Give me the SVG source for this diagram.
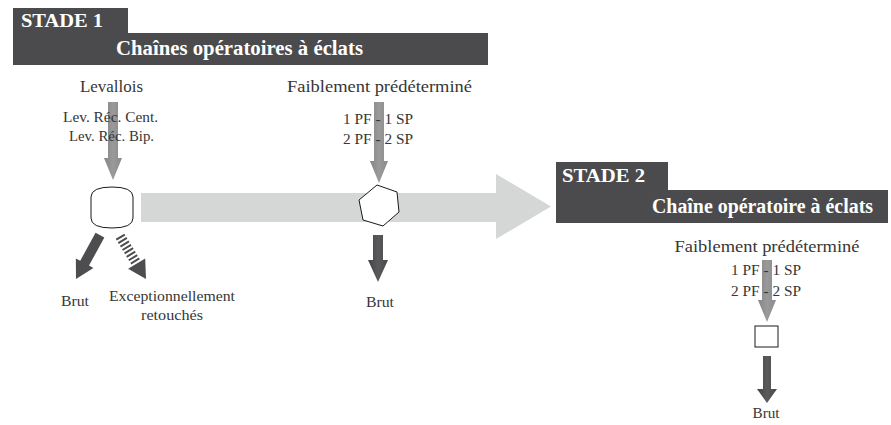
<svg xmlns="http://www.w3.org/2000/svg" width="891" height="425" viewBox="0 0 891 425">
  <defs>
    <style>
      .bar { fill: #4b4b4d; }
      .hdr { font-family: 'Liberation Serif', 'Times New Roman', serif; font-weight: bold; fill: #ffffff; }
      .lbl { font-family: 'Liberation Serif', 'Times New Roman', serif; fill: #363636; text-anchor: middle; }
      .node { fill: #ffffff; stroke: #1a1a1a; stroke-width: 1; }
      .big { fill: #d5d7d6; }
      .gray { fill: url(#gGray); }
      .dark { fill: url(#gDark); }
    </style>
    <linearGradient id="gGray" x1="0" y1="0" x2="1" y2="0">
      <stop offset="0" stop-color="#858585"/>
      <stop offset="0.5" stop-color="#9a9a9a"/>
      <stop offset="1" stop-color="#8a8a8a"/>
    </linearGradient>
    <linearGradient id="gDark" x1="0" y1="0" x2="1" y2="0">
      <stop offset="0" stop-color="#444446"/>
      <stop offset="0.5" stop-color="#5a5a5c"/>
      <stop offset="1" stop-color="#4a4a4c"/>
    </linearGradient>
  </defs>

  <!-- Big transition arrow -->
  <g id="transition-arrow">
    <polygon class="big" points="141,193 496,193 496,174 551,206.5 496,239 496,222 141,222"/>
  </g>

  <!-- Stage headers -->
  <g id="stade1-header">
    <rect class="bar" x="13" y="8" width="115" height="26"/>
    <rect class="bar" x="13" y="33" width="475" height="32"/>
    <text class="hdr" x="21" y="27" font-size="19" textLength="82" lengthAdjust="spacingAndGlyphs">STADE 1</text>
    <text class="hdr" x="116" y="55" font-size="20" textLength="247" lengthAdjust="spacingAndGlyphs">Chaînes opératoires à éclats</text>
  </g>
  <g id="stade2-header">
    <rect class="bar" x="556" y="162" width="112" height="29"/>
    <rect class="bar" x="556" y="190" width="332" height="33"/>
    <text class="hdr" x="562" y="182" font-size="19" textLength="83" lengthAdjust="spacingAndGlyphs">STADE 2</text>
    <text class="hdr" x="652" y="213" font-size="20" textLength="221" lengthAdjust="spacingAndGlyphs">Chaîne opératoire à éclats</text>
  </g>

  <!-- Connectors -->
  <g id="connectors">
    <polygon class="gray" points="108,102 118,102 118,158 122,158 113,180 104,158 108,158"/>
    <polygon class="gray" points="374,102 384,102 384,161 388,161 379,183 370,161 374,161"/>
    <polygon class="gray" points="762,260 772,260 772,300 776,300 767,322 758,300 762,300"/>
    <polygon class="dark" points="373,235 383,235 383,260 388,260 378,282 368,260 373,260"/>
    <polygon class="dark" points="763,356 771,356 771,389 777,389 767,403 757,389 763,389"/>
    <g transform="translate(76,279) rotate(28.6)">
      <polygon fill="#4d4d4f" points="-5,-50 5,-50 5,-18 10,-18 0,0 -10,-18 -5,-18"/>
    </g>
    <g transform="translate(146,279) rotate(-31.3)">
      <line x1="0" y1="-50" x2="0" y2="-18" stroke="#4d4d4f" stroke-width="10" stroke-dasharray="2 2"/>
      <polygon fill="#4d4d4f" points="-10,-18 10,-18 0,0"/>
    </g>
  </g>

  <!-- Nodes -->
  <g id="node-levallois">
    <path class="node" d="M91,197 Q91,187 112,187 Q133,187 133,197 V218 Q133,228 112,228 Q91,228 91,218 Z"/>
  </g>
  <g id="node-faible1">
    <polygon class="node" points="377,185 397,192 399,212 383,226 363,220 359,200"/>
  </g>
  <g id="node-faible2">
    <rect class="node" x="755" y="326" width="23" height="21"/>
  </g>

  <!-- Labels -->
  <g id="labels-stade1">
    <text class="lbl" x="111.5" y="92" font-size="17" textLength="63" lengthAdjust="spacingAndGlyphs">Levallois</text>
    <text class="lbl" x="110.5" y="122" font-size="15" textLength="95" lengthAdjust="spacingAndGlyphs">Lev. Réc. Cent.</text>
    <text class="lbl" x="111.5" y="141" font-size="15" textLength="85" lengthAdjust="spacingAndGlyphs">Lev. Réc. Bip.</text>
    <text class="lbl" x="379.5" y="92" font-size="17.5" textLength="185" lengthAdjust="spacingAndGlyphs">Faiblement prédéterminé</text>
    <text class="lbl" x="378" y="124" font-size="15" textLength="70" lengthAdjust="spacingAndGlyphs">1 PF - 1 SP</text>
    <text class="lbl" x="378" y="144" font-size="15" textLength="70" lengthAdjust="spacingAndGlyphs">2 PF - 2 SP</text>
    <text class="lbl" x="75" y="306" font-size="15" textLength="28" lengthAdjust="spacingAndGlyphs">Brut</text>
    <text class="lbl" x="172" y="301" font-size="15.5" textLength="126" lengthAdjust="spacingAndGlyphs">Exceptionnellement</text>
    <text class="lbl" x="172" y="320" font-size="15.5" textLength="62" lengthAdjust="spacingAndGlyphs">retouchés</text>
    <text class="lbl" x="380" y="307" font-size="15" textLength="28" lengthAdjust="spacingAndGlyphs">Brut</text>
  </g>
  <g id="labels-stade2">
    <text class="lbl" x="767" y="252" font-size="17.5" textLength="185" lengthAdjust="spacingAndGlyphs">Faiblement prédéterminé</text>
    <text class="lbl" x="766" y="275" font-size="15" textLength="70" lengthAdjust="spacingAndGlyphs">1 PF - 1 SP</text>
    <text class="lbl" x="766" y="296" font-size="15" textLength="70" lengthAdjust="spacingAndGlyphs">2 PF - 2 SP</text>
    <text class="lbl" x="766" y="418" font-size="15" textLength="27" lengthAdjust="spacingAndGlyphs">Brut</text>
  </g>
</svg>
